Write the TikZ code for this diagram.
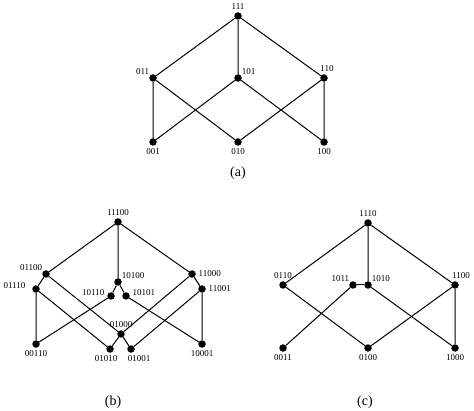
\documentclass[tikz,border=0pt]{standalone}
\usepackage{fontspec}
\setmainfont{Liberation Serif}
\usepackage{tikz}
\usetikzlibrary{positioning}
\usetikzlibrary{arrows}

\begin{document}
\begin{tikzpicture}[x=1pt,y=1pt,>=latex,
  dot/.style={circle,inner sep=0pt,minimum size=7.5pt,fill,label={#1}},
  every label/.style={font=\fontsize{9}{10}\selectfont,inner sep=1.5pt},
  label distance=1pt,
  subcap/.style={font=\fontsize{14}{16}\selectfont},
  edge/.style={line width=1pt}]

\useasboundingbox (0,0) rectangle (474,410);

% (a)
\node [dot=above:111] (a111) at (238,394) {};
\node [dot, label={[label distance=-1pt]above left:011}] (a011) at (153,332) {};
\node [dot, label={[label distance=-1pt]above right:101}] (a101) at (238,332) {};
\node [dot, label={[xshift=3pt]above:110}] (a110) at (324,332) {};
\node [dot=below:001] (a001) at (153,268) {};
\node [dot=below:010] (a010) at (238,268) {};
\node [dot=below:100] (a100) at (324,268) {};
\node [subcap] (capa) at (238,237) {(a)};

\draw [edge] (a111)--(a011) (a111)--(a101) (a111)--(a110);
\draw [edge] (a011)--(a001) (a011)--(a010);
\draw [edge] (a101)--(a001) (a101)--(a100);
\draw [edge] (a110)--(a010) (a110)--(a100);

% (b)
\node [dot=above:11100] (b11100) at (118,188) {};
\node [dot, label={[label distance=-1pt]above left:01100}] (b01100) at (46,136) {};
\node [dot, label={[yshift=3pt,xshift=-4pt]left:01110}] (b01110) at (36,121) {};
\node [dot, label={[label distance=-1pt]above right:10100}] (b10100) at (118,128) {};
\node [dot, label={[yshift=3pt]left:10110}] (b10110) at (111,114) {};
\node [dot, label={[yshift=3pt]right:10101}] (b10101) at (126,114) {};
\node [dot=right:11000] (b11000) at (192,136) {};
\node [dot=right:11001] (b11001) at (202,121) {};
\node [dot=above:01000] (b01000) at (121,76) {};
\node [dot=below:00110] (b00110) at (36,66) {};
\node [dot, label={[xshift=-4pt]below:01010}] (b01010) at (110,61) {};
\node [dot, label={[xshift=8pt]below:01001}] (b01001) at (131,61) {};
\node [dot=below:10001] (b10001) at (202,66) {};
\node [subcap] (capb) at (113,8) {(b)};

\draw [edge] (b11100)--(b01100) (b11100)--(b10100) (b11100)--(b11000);
\draw [edge] (b01100)--(b01110) (b01100)--(b01000);
\draw [edge] (b01110)--(b00110) (b01110)--(b01010);
\draw [edge] (b10100)--(b10110) (b10100)--(b10101);
\draw [edge] (b10110)--(b00110) (b10101)--(b10001);
\draw [edge] (b11000)--(b11001) (b11000)--(b01000);
\draw [edge] (b11001)--(b10001) (b11001)--(b01001);
\draw [edge] (b01000)--(b01010) (b01000)--(b01001);

% (c)
\node [dot=above:1110] (c1110) at (368,187) {};
\node [dot=above:0110] (c0110) at (283,125) {};
\node [dot, label={[label distance=-1pt]above left:1011}] (c1011) at (353,125) {};
\node [dot, label={[label distance=-1pt]above right:1010}] (c1010) at (368,125) {};
\node [dot, label={[xshift=6pt]above:1100}] (c1100) at (455,125) {};
\node [dot=below:0011] (c0011) at (283,62) {};
\node [dot=below:0100] (c0100) at (368,62) {};
\node [dot=below:1000] (c1000) at (455,62) {};
\node [subcap] (capc) at (365,8) {(c)};

\draw [edge] (c1110)--(c0110) (c1110)--(c1010) (c1110)--(c1100);
\draw [edge] (c1011)--(c1010);
\draw [edge] (c0110)--(c0100) (c1011)--(c0011);
\draw [edge] (c1010)--(c1000);
\draw [edge] (c1100)--(c0100) (c1100)--(c1000);

\end{tikzpicture}
\end{document}
